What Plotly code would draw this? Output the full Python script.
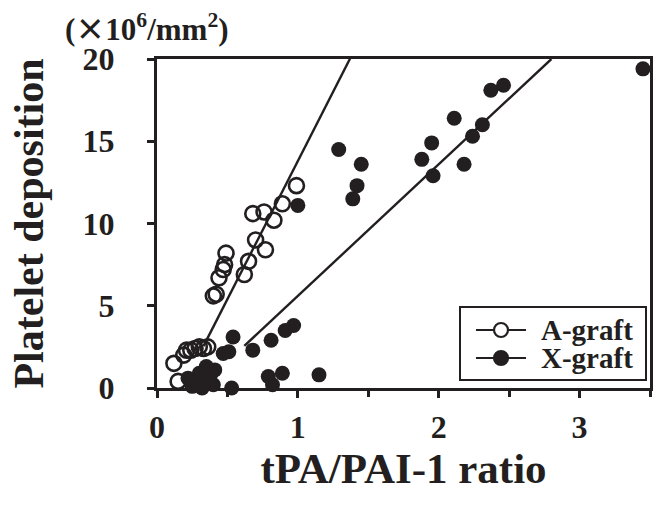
import plotly.graph_objects as go

# ---- data ----
a_graft_x = [0.12, 0.15, 0.14, 0.19, 0.21, 0.24, 0.27, 0.30, 0.33, 0.36, 0.20, 0.28, 0.34, 0.31,
             0.40, 0.42, 0.44, 0.47, 0.48, 0.49, 0.62, 0.65, 0.68, 0.70, 0.76, 0.77, 0.83, 0.89, 0.99]
a_graft_y = [1.5, 0.4, -0.2, 2.0, 2.3, 2.3, 2.4, 2.5, 2.4, 2.5, -0.4, -0.4, -0.5, 0.2,
             5.6, 5.7, 6.7, 7.2, 7.5, 8.2, 6.9, 7.7, 10.6, 9.0, 10.7, 8.4, 10.2, 11.2, 12.3]

x_graft_x = [1.00, 1.29, 1.39, 1.42, 1.45, 1.88, 1.95, 1.96, 2.11, 2.18, 2.24, 2.31, 2.37, 2.46, 3.45,
             0.97, 0.91, 0.81, 0.68, 0.54, 0.51, 0.47, 1.15, 0.89, 0.79, 0.82, 0.53, 0.41, 0.38,
             0.35, 0.30, 0.27, 0.25, 0.32, 0.22, 0.40, 0.35]
x_graft_y = [11.1, 14.5, 11.5, 12.3, 13.6, 13.9, 14.9, 12.9, 16.4, 13.6, 15.3, 16.0, 18.1, 18.4, 19.4,
             3.8, 3.5, 2.9, 2.3, 3.1, 2.2, 2.1, 0.8, 0.9, 0.7, 0.2, 0.0, 1.1, 0.8,
             0.5, 0.9, 0.4, 0.1, 0.0, 0.6, 0.2, 1.3]

# regression lines: slope, intercept, x-extent
fit_a = dict(slope=16.8, intercept=-3.0, x_start=0.33, x_end=1.37)
fit_x = dict(slope=8.0, intercept=-2.4, x_start=0.62, x_end=2.80)

x_ticks = [0, 1, 2, 3]
y_ticks = [0, 5, 10, 15, 20]
series_names = ["A-graft", "X-graft"]

INK = "#231f20"
FONT = "Liberation Serif"


def fit_line(f):
    xs = [f["x_start"], f["x_end"]]
    return xs, [f["slope"] * v + f["intercept"] for v in xs]


fig = go.Figure()

lx, ly = fit_line(fit_a)
fig.add_trace(go.Scatter(x=lx, y=ly, mode="lines", line=dict(color=INK, width=2.4), showlegend=False))
lx, ly = fit_line(fit_x)
fig.add_trace(go.Scatter(x=lx, y=ly, mode="lines", line=dict(color=INK, width=2.4), showlegend=False))

fig.add_trace(go.Scatter(
    x=a_graft_x, y=a_graft_y, mode="markers", cliponaxis=False, showlegend=False, name=series_names[0],
    marker=dict(symbol="circle-open", size=15, color=INK, line=dict(width=2.6, color=INK)),
))
fig.add_trace(go.Scatter(
    x=x_graft_x, y=x_graft_y, mode="markers", cliponaxis=False, showlegend=False, name=series_names[1],
    marker=dict(symbol="circle", size=15, color=INK, line=dict(width=0)),
))

# ---- hand-built legend (paper coordinates) ----
shapes = [dict(type="rect", xref="paper", yref="paper", x0=0.6146, x1=0.9919, y0=0.0243, y1=0.2462,
               line=dict(color=INK, width=2), fillcolor="white", layer="above")]
annotations = []
rows_y = [0.1763, 0.0912]
for name, ry, filled in zip(series_names, rows_y, [False, True]):
    shapes.append(dict(type="line", xref="paper", yref="paper", x0=0.647, x1=0.7485, y0=ry, y1=ry,
                       line=dict(color=INK, width=2), layer="above"))
    shapes.append(dict(type="circle", xref="paper", yref="paper", xsizemode="pixel", ysizemode="pixel",
                       xanchor=0.6978, yanchor=ry, x0=-7, x1=7, y0=-7, y1=7,
                       line=dict(color=INK, width=2.2), fillcolor=INK if filled else "white", layer="above"))
    annotations.append(dict(text=name, xref="paper", yref="paper", x=0.7748, y=ry, xanchor="left",
                            yanchor="middle", showarrow=False,
                            font=dict(family=FONT, size=29, color=INK, weight="bold")))

annotations.append(dict(
    text="(<span style=\"font-family:'Noto Sans CJK JP';font-size:30px\">×</span>10<sup>6</sup>/mm<sup>2</sup>)",
    xref="paper", yref="paper",
    x=-0.02, y=1.097, xanchor="center", yanchor="middle", showarrow=False,
    font=dict(family=FONT, size=31, color=INK, weight="bold"),
))

fig.update_layout(
    width=658, height=508,
    margin=dict(l=157, r=8, t=59, b=120, autoexpand=False),
    paper_bgcolor="white", plot_bgcolor="white",
    font=dict(family=FONT, color=INK, weight="bold"),
    showlegend=False,
    shapes=shapes,
    annotations=annotations,
)

fig.update_xaxes(
    range=[0, 3.5], tickvals=x_ticks, ticktext=[str(v) for v in x_ticks],
    showgrid=False, zeroline=False, automargin=False,
    showline=True, linecolor=INK, linewidth=3, mirror=True,
    ticks="outside", ticklen=7, tickwidth=3, tickcolor=INK,
    minor=dict(ticks="outside", dtick=0.5, ticklen=6, tickwidth=3, tickcolor=INK, showgrid=False),
    tickfont=dict(family=FONT, size=32, color=INK, weight="bold"),
    ticklabelstandoff=2,
    title=dict(text="tPA/PAI-1 ratio", font=dict(family=FONT, size=43, color=INK, weight="bold"), standoff=3),
)
fig.update_yaxes(
    range=[0, 20], tickvals=y_ticks, ticktext=[str(v) for v in y_ticks],
    showgrid=False, zeroline=False, automargin=False,
    showline=True, linecolor=INK, linewidth=3, mirror=True,
    ticks="outside", ticklen=7, tickwidth=3, tickcolor=INK,
    tickfont=dict(family=FONT, size=32, color=INK, weight="bold"),
    ticklabelstandoff=26,
    title=dict(text="Platelet deposition", font=dict(family=FONT, size=42, color=INK, weight="bold"), standoff=26),
)

fig.write_html("out.html", config={"displayModeBar": False},
               post_script="document.body.style.margin='0';document.body.style.overflow='hidden';")
